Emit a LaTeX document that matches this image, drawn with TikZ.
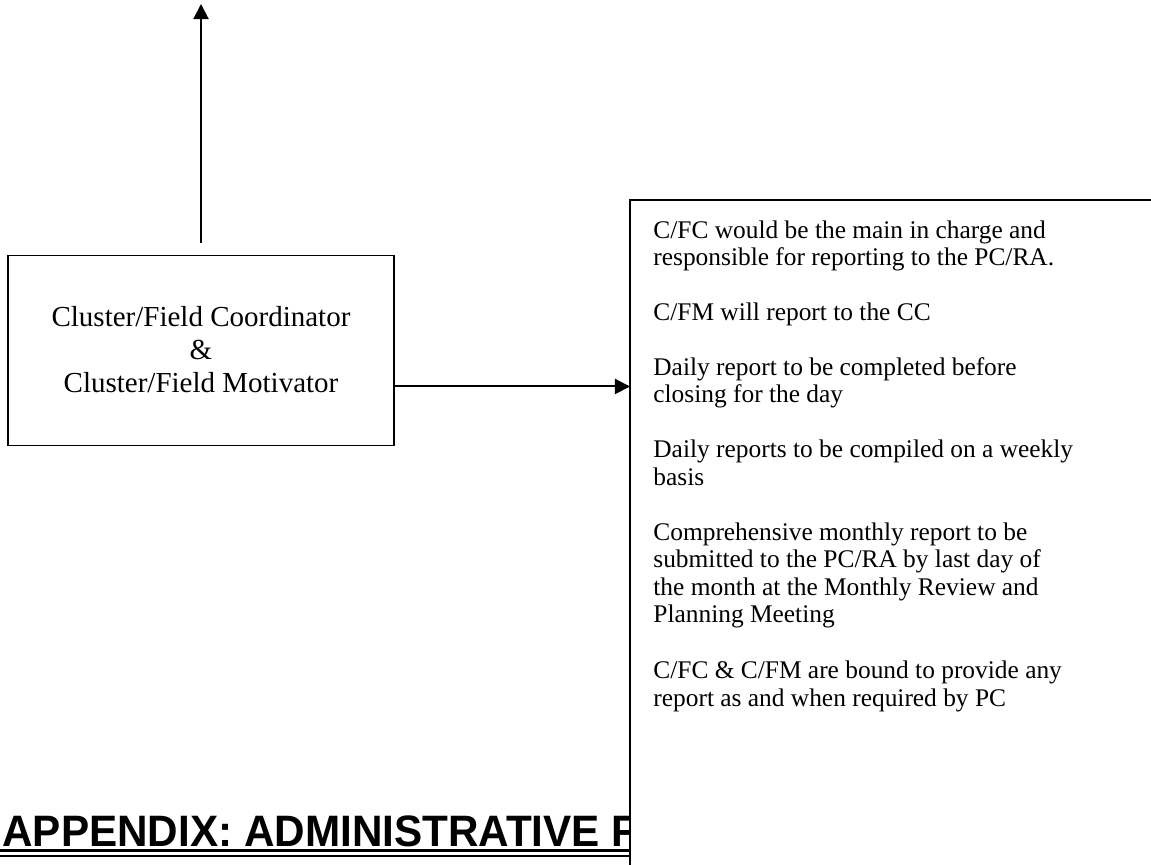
\documentclass[tikz,border=0pt]{standalone}
\usepackage{fontspec}
\setmainfont{Liberation Serif}
\newfontfamily\headfont{Liberation Sans}[FakeStretch=0.96]
\usetikzlibrary{arrows.meta}
\begin{document}
\begin{tikzpicture}[x=0.5pt,y=-0.5pt,
  boxline/.style={draw=black,line width=0.8pt},
  notebox/.style={draw=black,fill=white,line width=0.65pt},
  arr/.style={line width=1pt,-{Triangle[length=7.6pt,width=7.6pt]}},
  boxtext/.style={font=\fontsize{14.5}{16.5}\selectfont,align=center,inner sep=0pt,anchor=base},
  notetext/.style={font=\fontsize{12.7}{13.75}\selectfont,align=left,inner sep=0pt,anchor=base west},
  headtext/.style={font=\headfont\bfseries\fontsize{22}{24}\selectfont,inner sep=0pt,anchor=base west}]
\useasboundingbox (0,0) rectangle (1151,865);
\fill[white] (0,0) rectangle (1151,865);
\clip (0,0) rectangle (1151,865);

% heading (partly hidden by the notes box)
\node[headtext] (head) at (2,846) {APPENDIX: ADMINISTRATIVE F};
\draw[line width=1.5pt] (0,850) -- (640,850);
\draw[line width=1pt] (0,855.5) -- (640,855.5);

% left box
\node[boxline,minimum width=193pt,minimum height=95pt,inner sep=0pt] (cfc) at (201,350.5) {};
\node[boxtext] (cfctext) at (201,393) {Cluster/Field Coordinator\\\&\\Cluster/Field Motivator};

% notes box (extends beyond the picture)
\path[notebox] (630,200) rectangle (1300,1000);
\node[inner sep=0pt,minimum width=335pt,minimum height=400pt,anchor=north west] (notes) at (630,200) {};

% (each node is placed by the baseline of its last line)
\node[notetext] (n1) at (653,266) {C/FC would be the main in charge and\\responsible for reporting to the PC/RA.};
\node[notetext] (n2) at (653,320.5) {C/FM will report to the CC};
\node[notetext] (n3) at (653,403) {Daily report to be completed before\\closing for the day};
\node[notetext] (n4) at (653,485.5) {Daily reports to be compiled on a weekly\\basis};
\node[notetext] (n5) at (653,623) {Comprehensive monthly report to be\\submitted to the PC/RA by last day of\\the month at the Monthly Review and\\Planning Meeting};
\node[notetext] (n6) at (653,706) {C/FC \& C/FM are bound to provide any\\report as and when required by PC};

% arrows
\coordinate (upstart) at (201,243);
\coordinate (uptop) at (201,4);
\draw[arr] (upstart) -- (uptop);
\coordinate (rstart) at (cfc.east |- 0,386.5);
\draw[arr] (rstart) -- (notes.west |- rstart);
\end{tikzpicture}
\end{document}
